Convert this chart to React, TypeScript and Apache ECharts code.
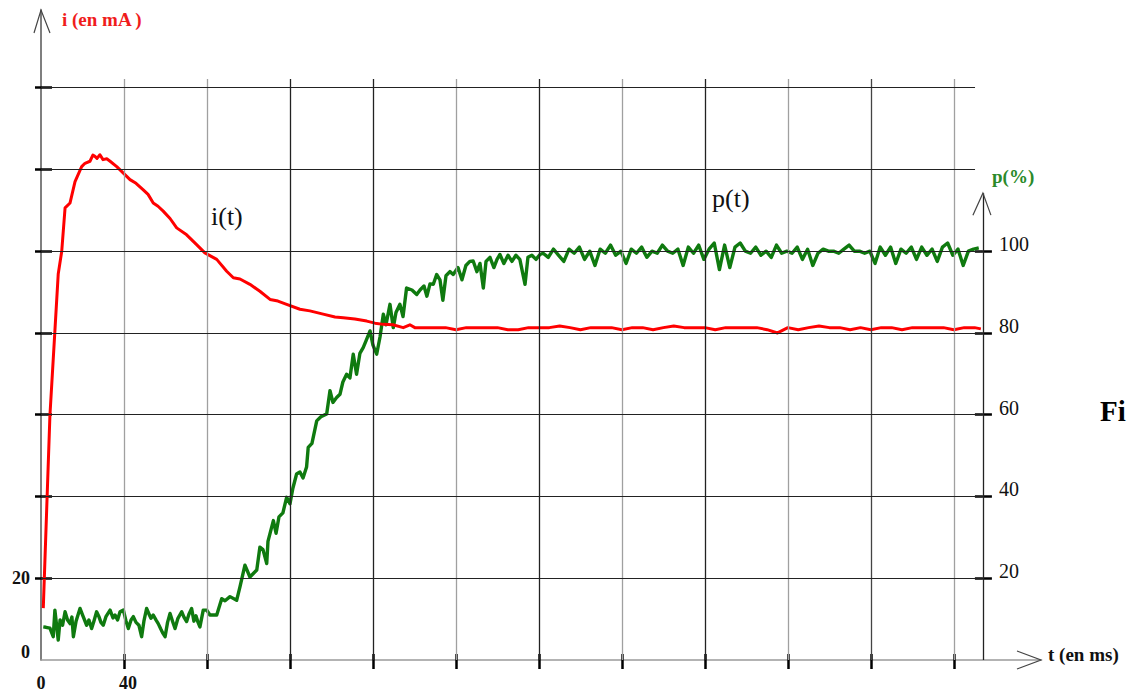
import React, { useEffect, useRef } from "react";
import * as echarts from "echarts";

// ---- current i(t) in mA ----
const I_T = [
  1.1, 4.3, 6.7, 8.3, 10.0, 11.6, 14.0, 16.4, 19.6, 21.2, 23.6, 25.0, 26.0, 27.0, 28.4, 29.9, 31.7, 33.3,
  36.5, 39.7, 42.9, 45.8, 49.3, 51.6, 54.1, 56.4, 58.9, 62.2, 65.4, 70.2, 75.0, 79.0, 84.7, 89.5, 92.7,
  95.9, 100.7, 105.5, 110.4, 114.2, 118.4, 124.8, 129.6, 136.0, 141.7, 145.7, 151.3, 157.0, 161.0, 165.0,
  169.6, 174.6, 177.8, 180.2, 185, 190, 195, 200, 205, 210, 215, 220, 225, 230, 235, 240, 245, 250, 255,
  260, 265, 270, 275, 280, 285, 290, 295, 300, 305, 310, 315, 320, 325, 330, 335, 340, 345, 350, 355, 360,
  365, 370, 375, 380, 385, 390, 395, 400, 405, 410, 415, 420, 425, 430, 435, 440, 445, 450, 453,
];
const I_V = [
  12.7, 59.8, 80.5, 94.4, 100, 110.6, 111.8, 117, 120.7, 121.5, 122, 123.5, 123.2, 122.7, 123.6, 122.4,
  122.6, 122, 120.7, 119.1, 117.5, 116.6, 115, 113.9, 111.8, 111, 109.8, 108, 105.7, 104, 101.6, 99.6, 98,
  95.1, 93.5, 93.2, 91.9, 90.2, 88.2, 87.8, 87, 85.8, 85.4, 84.6, 83.9, 83.7, 83.4, 82.9, 82.4, 82.1, 82.0,
  81.3, 82.0, 81.3, 81.3, 81.3, 81.3, 80.8, 81.3, 81.3, 81.3, 81.3, 80.8, 80.8, 81.3, 81.3, 81.3, 81.7,
  81.3, 80.8, 81.3, 81.3, 81.3, 80.8, 81.3, 81.3, 80.8, 81.3, 81.7, 81.3, 81.3, 81.3, 80.8, 81.3, 81.3,
  81.3, 81.3, 80.8, 80.0, 81.3, 80.8, 81.3, 81.7, 81.3, 81.3, 80.8, 81.3, 80.8, 81.3, 81.3, 80.8, 81.3,
  81.3, 81.3, 81.3, 80.8, 81.3, 81.3, 81.0,
];

// ---- position p(t) in % ----
const P_T = [
  1.1, 2.4, 4.3, 5.9, 6.7, 8.3, 9.2, 10.4, 11.6, 12.8, 14.0, 14.9, 15.6, 16.9, 18.8, 20.2, 22.0, 23.1, 24.4,
  25.5, 26.8, 28.0, 28.9, 30.0, 31.3, 33.3, 34.7, 35.7, 36.9, 38.1, 39.7, 41.0, 42.1, 43.4, 44.5, 45.8,
  47.2, 48.5, 49.6, 50.9, 52.1, 53.0, 54.1, 55.4, 56.5, 57.8, 58.8, 59.8, 61.0, 62.2, 63.4, 64.6, 66.0,
  67.8, 68.9, 70.2, 71.3, 72.6, 73.7, 74.7, 75.7, 76.6, 78.2, 79.9, 81.4, 84.7, 87.1, 88.7, 91.1, 94.3,
  95.9, 98.3, 100.7, 104.0, 105.5, 107.0, 108.8, 109.4, 112.0, 113.3, 114.7, 116.6, 118.4, 120.0, 121.4,
  123.2, 124.8, 126.3, 128.0, 128.8, 130.6, 132.9, 134.9, 137.7, 139.3, 140.7, 142.5, 144.1, 145.5, 147.3,
  148.9, 150.5, 152.1, 153.7, 155.3, 156.6, 158.6, 160.0, 161.8, 163.4, 165.0, 166.3, 168.2, 169.8, 171.1,
  173.0, 174.5, 176.2, 178.8, 181.1, 182.7, 184.6, 186.0, 187.5, 189.1, 190.7, 192.3, 193.7, 195.2, 197.1,
  198.7, 201.0, 202.9, 204.8, 206.7, 208.3, 210.1, 211.6, 213.2, 214.5, 216.4, 218.3, 219.8, 221.2, 223.1,
  225.1, 227.0, 228.9, 230.8, 233.3, 234.7, 236.6, 238.6, 240.5, 242, 244.5, 247, 249.5, 252, 254.5, 257,
  259.5, 262, 264.5, 267, 269.5, 272, 274.5, 277, 279.5, 282, 284.5, 287, 289.5, 292, 294.5, 297, 299.5,
  302, 304.5, 307, 309.5, 312, 314.5, 317, 319.5, 322, 324.5, 327, 329.5, 332, 334.5, 337, 339.5, 342,
  344.5, 347, 349.5, 352, 354.5, 357, 359.5, 362, 364.5, 367, 369.5, 372, 374.5, 377, 379.5, 382, 384.5,
  387, 389.5, 392, 394.5, 397, 399.5, 402, 404.5, 407, 409.5, 412, 414.5, 417, 419.5, 422, 424.5, 427,
  429.5, 432, 434.5, 437, 439.5, 442, 444.5, 447, 449.5, 452,
];
const P_V = [
  8.1, 8.0, 7.8, 5.7, 12.2, 4.9, 9.8, 8.5, 11.8, 9.8, 8.9, 10.5, 5.7, 9.5, 12.6, 10.8, 8.5, 9.8, 7.7, 9.5,
  11.8, 10.5, 9.2, 8.5, 10.6, 12.2, 10.3, 11.0, 9.8, 11.8, 12.2, 9.5, 7.7, 9.8, 10.6, 9.2, 8.5, 5.7, 9.5,
  12.6, 11.2, 10.2, 11.0, 9.8, 8.9, 7.5, 6.5, 5.7, 9.2, 11.4, 9.5, 7.7, 10.2, 11.8, 10.5, 9.4, 11.2, 12.6,
  9.5, 10.8, 9.2, 8.1, 12.2, 12.2, 11.0, 11.0, 15.0, 14.5, 15.5, 14.6, 17.9, 23.2, 20.3, 22.0, 27.6, 27.0,
  23.6, 29.0, 34.1, 31.0, 35.0, 36.0, 39.8, 38.2, 42.0, 45.5, 46.0, 44.5, 47.2, 52.0, 53.0, 58.5, 59.5,
  60.2, 65.9, 63.0, 64.2, 65.0, 68.0, 69.9, 69.0, 74.8, 69.9, 75.0, 76.4, 78.0, 80.5, 77.0, 74.8, 79.0,
  84.6, 82.0, 87.0, 81.3, 85.0, 87.0, 84.0, 91.0, 90.5, 89.4, 90.5, 91.5, 89.0, 92.0, 91.9, 94.3, 93.0,
  88.0, 94.0, 95.0, 94.3, 96.0, 93.0, 96.5, 97.5, 97.6, 95.0, 97.0, 91.0, 97.5, 98.5, 96.0, 98.0, 99.2,
  97.0, 99.0, 97.5, 99.0, 98.0, 91.9, 98.5, 99.0, 98.0, 99.2, 99.5, 98.5, 100.5, 99.0, 97.5, 100.5, 99.5,
  101.0, 98.0, 100.0, 96.5, 100.5, 99.5, 101.5, 99.0, 100.0, 97.0, 100.5, 99.5, 101.0, 98.5, 100.0, 99.5,
  101.5, 100.0, 99.5, 100.5, 96.5, 101.0, 99.5, 101.5, 98.0, 100.5, 102.0, 95.5, 101.5, 96.0, 101.0,
  102.0, 100.0, 99.5, 101.0, 99.0, 100.0, 98.5, 101.5, 99.5, 100.0, 99.5, 101.0, 98.0, 100.5, 96.5, 99.5,
  100.5, 100.0, 100.0, 99.5, 100.5, 101.5, 100.0, 100.0, 99.5, 100.0, 97.0, 101.0, 99.0, 101.0, 97.0,
  100.5, 99.5, 101.0, 98.0, 101.0, 99.0, 100.5, 97.5, 101.0, 102.0, 99.0, 100.5, 96.5, 100.0, 100.5, 100.8,
];

// ---- axes / grid values ----
const X_GRID = [40, 80, 120, 160, 200, 240, 280, 320, 360, 400, 440];
const X_GRID_COLORS = ["#a0a0a0", "#a0a0a0", "#222", "#222", "#a0a0a0", "#222", "#a0a0a0", "#222", "#a0a0a0", "#444", "#a0a0a0"];
const Y_GRID = [20, 40, 60, 80, 100, 120, 140];
const X_LABELS = [0, 40];
const Y_LEFT_LABELS = [0, 20];
const Y_RIGHT_LABELS = [20, 40, 60, 80, 100];
const T_MAX = 482;
const Y_MAX = 159;
const T_RIGHT_AXIS = 454;
const P_AXIS_TOP = 114.2;
const V_GRID_TOP = 142.1;
const H_GRID_SHORT_END = 450.2;

const SERIF = '"Liberation Serif", "DejaVu Serif", serif';

export default function App() {
  const ref = useRef<HTMLDivElement>(null);

  useEffect(() => {
    const chart = echarts.init(ref.current!, null, { renderer: "svg" });
    const gridW = 1000;
    const rightOffset = -(gridW - (T_RIGHT_AXIS / T_MAX) * gridW);

    const iData = I_T.map((t, k) => [t, I_V[k]]);
    const pData = P_T.map((t, k) => [t, P_V[k]]);

    const gridLines: any[] = [
      ...X_GRID.map((t, k) => [
        { coord: [t, 0], lineStyle: { color: X_GRID_COLORS[k], width: 1.3, type: "solid" } },
        { coord: [t, V_GRID_TOP] },
      ]),
      ...Y_GRID.map((v) => [
        { coord: [0, v], lineStyle: { color: "#222", width: 1.2, type: "solid" } },
        { coord: [v >= 120 ? H_GRID_SHORT_END : T_RIGHT_AXIS, v] },
      ]),
      [
        { coord: [T_RIGHT_AXIS, 0], lineStyle: { color: "#222", width: 1.3, type: "solid" } },
        { coord: [T_RIGHT_AXIS, P_AXIS_TOP] },
      ],
    ];

    const tickStyle = { color: "#000", width: 2.5 };

    chart.setOption({
      animation: false,
      backgroundColor: "#fff",
      grid: { left: 41, top: 10, width: gridW, height: 650, containLabel: false, outerBoundsMode: "none" },
      xAxis: [
        {
          type: "value",
          min: 0,
          max: T_MAX,
          position: "bottom",
          axisLine: { show: true, lineStyle: { color: "#9a9a9a", width: 1.5 } },
          axisTick: { show: true, customValues: X_GRID, length: 9, lineStyle: tickStyle },
          axisLabel: {
            customValues: X_LABELS,
            margin: 14,
            formatter: (v: number) => (v === 0 ? "{a|0}" : "{b|" + v + "}"),
            rich: {
              a: { fontFamily: SERIF, fontWeight: "bold", fontSize: 18, color: "#111" },
              b: { fontFamily: SERIF, fontWeight: "bold", fontSize: 18, color: "#111", padding: [0, 0, 0, 8] },
            },
          },
          splitLine: { show: false },
        },
        {
          type: "value",
          min: 0,
          max: T_MAX,
          position: "bottom",
          axisLine: { show: false },
          axisTick: { show: true, inside: true, customValues: X_GRID, length: 6, lineStyle: tickStyle },
          axisLabel: { show: false },
          splitLine: { show: false },
        },
      ],
      yAxis: [
        {
          type: "value",
          min: 0,
          max: Y_MAX,
          position: "left",
          axisLine: { show: true, lineStyle: { color: "#555", width: 1.5 } },
          axisTick: { show: true, customValues: Y_GRID, length: 6, lineStyle: tickStyle },
          axisLabel: {
            customValues: Y_LEFT_LABELS,
            margin: 11,
            formatter: (v: number) => (v === 0 ? "{z|0}" : "{n|" + v + "}"),
            rich: {
              z: { fontFamily: SERIF, fontWeight: "bold", fontSize: 18, color: "#111", padding: [0, 0, 16, 0] },
              n: { fontFamily: SERIF, fontWeight: "bold", fontSize: 18, color: "#111" },
            },
          },
          splitLine: { show: false },
        },
        {
          type: "value",
          min: 0,
          max: Y_MAX,
          position: "left",
          axisLine: { show: false },
          axisTick: { show: true, inside: true, customValues: Y_GRID, length: 11, lineStyle: tickStyle },
          axisLabel: { show: false },
          splitLine: { show: false },
        },
        {
          type: "value",
          min: 0,
          max: Y_MAX,
          position: "right",
          offset: rightOffset,
          axisLine: { show: false },
          axisTick: { show: true, customValues: Y_RIGHT_LABELS, length: 9, lineStyle: tickStyle },
          axisLabel: {
            customValues: Y_RIGHT_LABELS,
            margin: 16,
            formatter: (v: number) => "{r|" + v + "}",
            rich: {
              r: { fontFamily: SERIF, fontSize: 20, color: "#111", padding: [0, 0, 14, 0] },
            },
          },
          splitLine: { show: false },
        },
        {
          type: "value",
          min: 0,
          max: Y_MAX,
          position: "right",
          offset: rightOffset,
          axisLine: { show: false },
          axisTick: { show: true, inside: true, customValues: Y_RIGHT_LABELS, length: 8, lineStyle: tickStyle },
          axisLabel: { show: false },
          splitLine: { show: false },
        },
      ],
      series: [
        {
          type: "line",
          name: "grid",
          data: [],
          z: 1,
          silent: true,
          markLine: {
            silent: true,
            symbol: ["none", "none"],
            label: { show: false },
            emphasis: { disabled: true },
            animation: false,
            data: gridLines,
          },
        },
        {
          type: "line",
          name: "p(t)",
          data: pData,
          z: 3,
          showSymbol: false,
          symbol: "none",
          lineStyle: { color: "#0f7a0f", width: 3.4, join: "round" },
        },
        {
          type: "line",
          name: "i(t)",
          data: iData,
          z: 4,
          showSymbol: false,
          symbol: "none",
          lineStyle: { color: "#ff0000", width: 3, join: "round" },
        },
      ],
    });

    const px = (t: number, v: number) =>
      chart.convertToPixel({ xAxisIndex: 0, yAxisIndex: 0 }, [t, v]) as number[];
    const chevron = (tip: number[], a: number[], b: number[]) => ({
      type: "polyline",
      shape: { points: [a, tip, b] },
      style: { stroke: "#444", lineWidth: 1.2, fill: null },
      z: 10,
    });
    const yTip = px(0, Y_MAX);
    const xTip = px(T_MAX, 0);
    const rTip = px(T_RIGHT_AXIS, P_AXIS_TOP);

    chart.setOption({
      graphic: [
        chevron(yTip, [yTip[0] - 7, yTip[1] + 23], [yTip[0] + 9, yTip[1] + 23]),
        chevron(xTip, [xTip[0] - 24, xTip[1] - 9], [xTip[0] - 24, xTip[1] + 9]),
        chevron(rTip, [rTip[0] - 10, rTip[1] + 22], [rTip[0] + 8, rTip[1] + 22]),
        {
          type: "text",
          left: 62,
          top: 10,
          z: 10,
          style: { text: "i (en mA )", fill: "#f01c1c", font: 'bold 19px "Liberation Serif"' },
        },
        {
          type: "text",
          left: 992,
          top: 167,
          z: 10,
          style: { text: "p(%)", fill: "#2a8a2a", font: 'bold 19px "Liberation Serif"' },
        },
        {
          type: "text",
          left: 1048,
          top: 645,
          z: 10,
          style: { text: "t (en ms)", fill: "#111", font: 'bold 19px "Liberation Serif"' },
        },
        {
          type: "text",
          left: 211,
          top: 203,
          z: 10,
          style: { text: "i(t)", fill: "#111", font: '26px "Liberation Serif"' },
        },
        {
          type: "text",
          left: 712,
          top: 185,
          z: 10,
          style: { text: "p(t)", fill: "#111", font: '26px "Liberation Serif"' },
        },
        {
          type: "text",
          left: 1100,
          top: 396,
          z: 10,
          style: { text: "Fi", fill: "#000", font: 'bold 29px "Liberation Serif"' },
        },
      ],
    });

    return () => chart.dispose();
  }, []);

  return (
    <div
      ref={ref}
      style={{ position: "fixed", left: 0, top: 0, width: 1127, height: 697, background: "#fff" }}
    />
  );
}
